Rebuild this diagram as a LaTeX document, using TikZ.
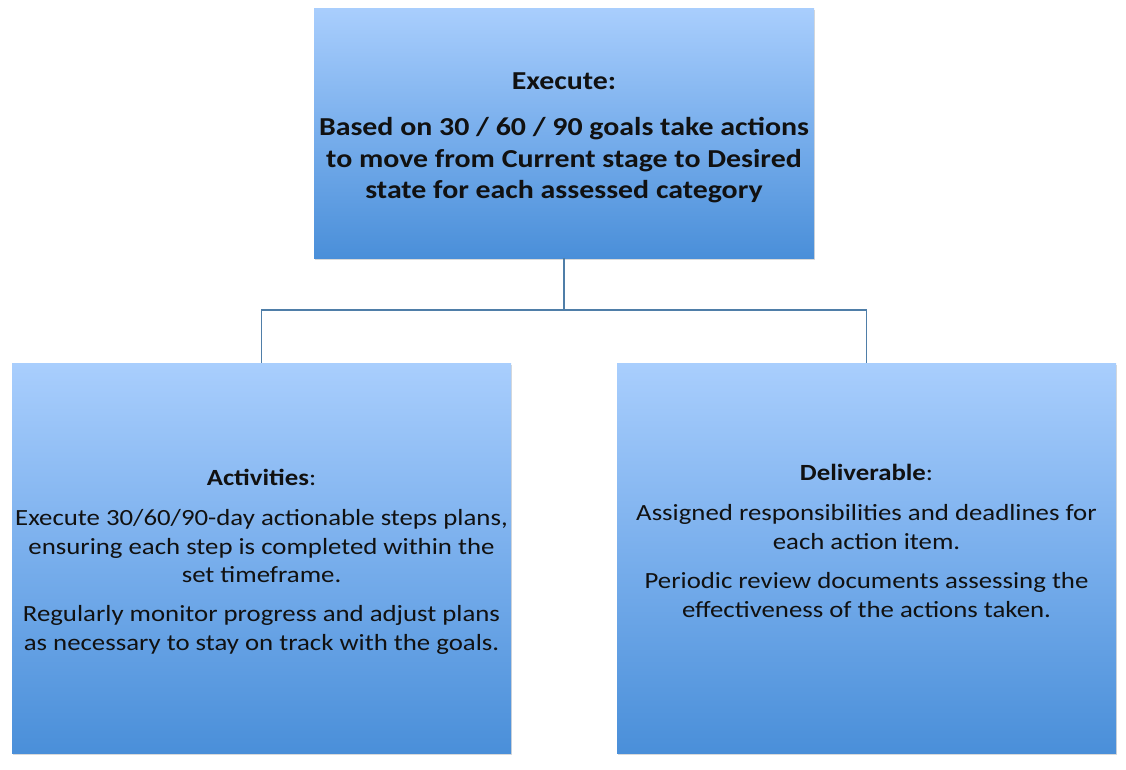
\documentclass[tikz,border=0pt]{standalone}
\usepackage{graphicx}
\usepackage{fontspec}
\setmainfont{Carlito}
\usetikzlibrary{shadows}
\definecolor{boxtop}{HTML}{A9CEFD}
\definecolor{boxmid}{HTML}{78AEEC}
\definecolor{boxbot}{HTML}{4A8FD9}
\definecolor{linec}{HTML}{4F7EA8}
\definecolor{txt}{HTML}{111111}
\newcommand\widetxt[1]{\scalebox{1.155}[1]{\begin{tabular}{@{}c@{}}#1\end{tabular}}}
\begin{document}
\begin{tikzpicture}[x=0.75pt,y=-0.75pt,
  box/.style={draw=none, top color=boxtop, bottom color=boxbot, middle color=boxmid,
    drop shadow={shadow xshift=0.8pt, shadow yshift=-1.6pt, opacity=0.25, fill=black!60},
    inner sep=0pt},
  conn/.style={draw=linec, line width=0.8pt},
  toptext/.style={align=center, text=txt, font=\fontsize{19.4}{23.6}\selectfont\bfseries, inner sep=0pt},
  subtext/.style={align=center, text=txt, font=\fontsize{17.4}{21.4}\selectfont, inner sep=0pt}
]
\useasboundingbox (0,0) rectangle (1126,769);
\node[box, minimum width=375pt, minimum height=187.5pt] (top) at (564,133) {};
\node[box, minimum width=374.25pt, minimum height=292.5pt] (left) at (261.5,558) {};
\node[box, minimum width=374.25pt, minimum height=292.5pt] (right) at (866.5,558) {};
\coordinate (j) at (564,310);
\draw[conn] (top.south) -- (j) -| (left.north);
\draw[conn] (j) -| (right.north);
\node[toptext] (toptxt) at (564,138) {\widetxt{Execute:\\[11pt]
Based on 30 / 60 / 90 goals take actions\\
to move from Current stage to Desired\\
state for each assessed category}};
\node[subtext] (lefttxt) at (261.5,562) {\widetxt{\textbf{Activities}:\\[9pt]
Execute 30/60/90-day actionable steps plans,\\
ensuring each step is completed within the\\
set timeframe.\\[8pt]
Regularly monitor progress and adjust plans\\
as necessary to stay on track with the goals.}};
\node[subtext] (righttxt) at (866.5,543) {\widetxt{\textbf{Deliverable}:\\[9pt]
Assigned responsibilities and deadlines for\\
each action item.\\[8pt]
Periodic review documents assessing the\\
effectiveness of the actions taken.}};
\end{tikzpicture}
\end{document}
